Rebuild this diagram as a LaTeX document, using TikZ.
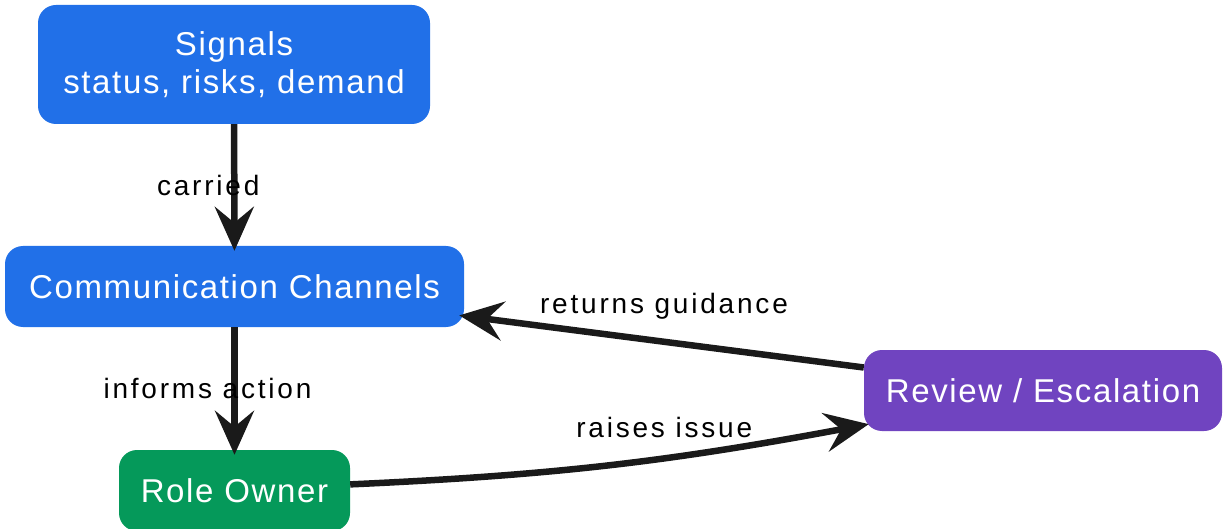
\documentclass[tikz,border=0pt]{standalone}
\usepackage{fontspec}
\setmainfont{Liberation Sans}
\newfontfamily\boxfont{Liberation Sans}[LetterSpace=5]
\newfontfamily\edgefont{Liberation Sans}[LetterSpace=10]
\usetikzlibrary{arrows.meta}

\definecolor{sigblue}{RGB}{33,112,232}
\definecolor{ownergreen}{RGB}{5,153,90}
\definecolor{reviewpurple}{RGB}{112,68,192}
\definecolor{ink}{RGB}{26,26,26}

\tikzset{
  box/.style={rounded corners=18pt, text=white, align=center, inner sep=0pt,
    font=\boxfont\fontsize{33}{38}\selectfont},
  flow/.style={draw=ink, line width=6.5pt,
    -{Stealth[length=44pt,width=39pt,inset=16pt]}, shorten >=-5pt},
  lbl/.style={text=black, inner sep=0pt, font=\edgefont\fontsize{28}{30}\selectfont},
}

\begin{document}
\begin{tikzpicture}[x=1pt, y=-1pt]
  \useasboundingbox (0,0) rectangle (1225,529);
  \fill[white] (0,0) rectangle (1225,529);

  % boxes
  \node[box, fill=sigblue, minimum width=392pt, minimum height=119pt] (sig) at (234,64.5)
    {Signals\\status, risks, demand};
  \node[box, fill=sigblue, minimum width=459pt, minimum height=81pt] (cc) at (234.5,286.5)
    {Communication Channels};
  \node[box, fill=ownergreen, minimum width=231pt, minimum height=81pt] (ro) at (234.5,490.5)
    {Role Owner};
  \node[box, fill=reviewpurple, minimum width=358pt, minimum height=81pt] (rev) at (1043,390.5)
    {Review / Escalation};

  % connectors
  \draw[flow] (sig) -- (cc)
    node[lbl, midway, xshift=-26pt] (lcarried) {carried};
  \draw[flow] (cc) -- (ro)
    node[lbl, midway, xshift=-27pt] (linforms) {informs action};
  \draw[flow] (ro) to[bend right=4]
    node[lbl, midway, xshift=56pt, yshift=38pt] (lraises) {raises issue} (rev);
  \draw[flow] (rev) -- (cc)
    node[lbl, midway, yshift=35pt] (lreturns) {returns guidance};
\end{tikzpicture}
\end{document}
